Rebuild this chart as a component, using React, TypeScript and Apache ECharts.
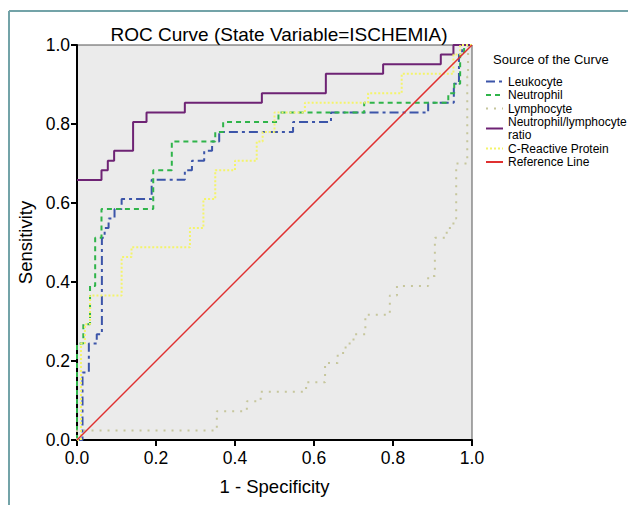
import React, { useEffect, useRef } from "react";
import * as echarts from "echarts";

const titleText = "ROC Curve (State Variable=ISCHEMIA)";
const xAxisName = "1 - Specificity";
const yAxisName = "Sensitivity";
const legendTitle = "Source of the Curve";
const seriesNames = [
  "Leukocyte",
  "Neutrophil",
  "Lymphocyte",
  "Neutrophil/lymphocyte\nratio",
  "C-Reactive Protein",
  "Reference Line",
];

const leukocyte: number[][] = [
  [0, 0], [0.014, 0], [0.014, 0.171], [0.03, 0.171], [0.03, 0.244], [0.05, 0.244],
  [0.05, 0.268], [0.063, 0.268], [0.063, 0.512], [0.07, 0.512], [0.07, 0.537],
  [0.08, 0.537], [0.08, 0.561], [0.095, 0.561], [0.095, 0.585], [0.113, 0.585],
  [0.113, 0.61], [0.189, 0.61], [0.189, 0.659], [0.273, 0.659], [0.273, 0.683],
  [0.291, 0.683], [0.291, 0.707], [0.322, 0.707], [0.322, 0.732], [0.342, 0.732],
  [0.342, 0.756], [0.36, 0.756], [0.36, 0.78], [0.547, 0.78], [0.547, 0.805],
  [0.643, 0.805], [0.643, 0.829], [0.889, 0.829], [0.889, 0.854], [0.954, 0.854],
  [0.954, 0.902], [0.967, 0.902], [0.967, 0.976], [0.975, 0.976], [0.975, 1], [1, 1],
];

const neutrophil: number[][] = [
  [0, 0], [0, 0.244], [0.016, 0.244], [0.016, 0.293], [0.033, 0.293], [0.033, 0.39],
  [0.046, 0.39], [0.046, 0.512], [0.062, 0.512], [0.062, 0.585], [0.193, 0.585],
  [0.193, 0.683], [0.24, 0.683], [0.24, 0.756], [0.35, 0.756], [0.35, 0.78],
  [0.37, 0.78], [0.37, 0.805], [0.51, 0.805], [0.51, 0.829], [0.727, 0.829],
  [0.727, 0.854], [0.94, 0.854], [0.94, 0.878], [0.955, 0.878], [0.955, 0.902],
  [0.97, 0.902], [0.97, 0.976], [0.98, 0.976], [0.98, 1], [1, 1],
];

const lymphocyte: number[][] = [
  [0, 0], [0, 0.024], [0.354, 0.024], [0.354, 0.073], [0.43, 0.073], [0.43, 0.098],
  [0.465, 0.098], [0.465, 0.122], [0.58, 0.122], [0.58, 0.146], [0.628, 0.146],
  [0.628, 0.195], [0.66, 0.195], [0.66, 0.22], [0.68, 0.22], [0.68, 0.244],
  [0.7, 0.244], [0.7, 0.268], [0.73, 0.268], [0.73, 0.317], [0.792, 0.317],
  [0.792, 0.366], [0.81, 0.366], [0.81, 0.39], [0.889, 0.39], [0.889, 0.415],
  [0.906, 0.415], [0.906, 0.512], [0.936, 0.512], [0.936, 0.537], [0.953, 0.537],
  [0.953, 0.561], [0.96, 0.561], [0.96, 0.7], [0.988, 0.7], [0.988, 0.92],
  [0.99, 0.92], [0.99, 1], [1, 1],
];

const nlRatio: number[][] = [
  [0, 0.658], [0.062, 0.658], [0.062, 0.683], [0.078, 0.683], [0.078, 0.707],
  [0.094, 0.707], [0.094, 0.732], [0.142, 0.732], [0.142, 0.805], [0.176, 0.805],
  [0.176, 0.829], [0.273, 0.829], [0.273, 0.854], [0.468, 0.854], [0.468, 0.878],
  [0.63, 0.878], [0.63, 0.927], [0.775, 0.927], [0.775, 0.951], [0.921, 0.951],
  [0.921, 0.976], [0.953, 0.976], [0.953, 1], [1, 1],
];

const crp: number[][] = [
  [0, 0], [0.01, 0], [0.01, 0.244], [0.02, 0.244], [0.02, 0.293], [0.033, 0.293],
  [0.033, 0.366], [0.113, 0.366], [0.113, 0.463], [0.138, 0.463], [0.138, 0.488],
  [0.286, 0.488], [0.286, 0.537], [0.32, 0.537], [0.32, 0.61], [0.35, 0.61],
  [0.35, 0.683], [0.4, 0.683], [0.4, 0.707], [0.455, 0.707], [0.455, 0.756],
  [0.47, 0.756], [0.47, 0.78], [0.5, 0.78], [0.5, 0.829], [0.577, 0.829],
  [0.577, 0.854], [0.737, 0.854], [0.737, 0.878], [0.822, 0.878], [0.822, 0.927],
  [0.953, 0.927], [0.953, 0.976], [0.97, 0.976], [0.97, 1], [1, 1],
];

const referenceLine: number[][] = [
  [0, 0], [1, 1],
];

const FONT = "Liberation Sans, Arial, sans-serif";

export default function App() {
  const ref = useRef<HTMLDivElement>(null);
  useEffect(() => {
    if (!ref.current) return;
    const chart = echarts.init(ref.current, undefined, { renderer: "svg" });
    const mk = (name: string, data: number[][], color: string, width: number, type: any) => ({
      name,
      type: "line",
      data,
      symbol: "none",
      showSymbol: false,
      lineStyle: { color, width, type },
      itemStyle: { color },
      emphasis: { disabled: true },
    });
    chart.setOption({
      animation: false,
      backgroundColor: "#ffffff",
      textStyle: { fontFamily: FONT },
      title: {
        text: titleText,
        left: 274,
        textAlign: "center",
        top: 20,
        textStyle: { fontSize: 19, fontWeight: "normal", color: "#000", fontFamily: FONT },
      },
      grid: {
        left: 77,
        top: 45,
        width: 395,
        height: 395,
        show: true,
        backgroundColor: "#ebebeb",
        borderColor: "#555555",
        borderWidth: 1,
      },
      xAxis: {
        type: "value",
        min: 0,
        max: 1,
        interval: 0.2,
        name: xAxisName,
        nameLocation: "middle",
        nameGap: 37,
        nameTextStyle: { fontSize: 18.5, color: "#000", fontFamily: FONT },
        axisLine: { show: true, lineStyle: { color: "#000", width: 2 } },
        axisTick: { show: true, length: 6, lineStyle: { color: "#000", width: 2 } },
        axisLabel: {
          fontSize: 17.5,
          color: "#000",
          margin: 9,
          fontFamily: FONT,
          formatter: (v: number) => v.toFixed(1),
        },
        splitLine: { show: false },
      },
      yAxis: {
        type: "value",
        min: 0,
        max: 1,
        interval: 0.2,
        name: yAxisName,
        nameLocation: "middle",
        nameGap: 38,
        nameTextStyle: { fontSize: 18.5, color: "#000", fontFamily: FONT },
        axisLine: { show: true, lineStyle: { color: "#000", width: 2 } },
        axisTick: { show: true, length: 6, lineStyle: { color: "#000", width: 2 } },
        axisLabel: {
          fontSize: 17.5,
          color: "#000",
          margin: 7,
          fontFamily: FONT,
          formatter: (v: number) => v.toFixed(1),
        },
        splitLine: { show: false },
      },
      legend: {
        orient: "vertical",
        left: 480,
        top: 70,
        itemWidth: 17,
        itemHeight: 8,
        itemGap: 0.5,
        data: seriesNames,
        itemStyle: { opacity: 0 },
        textStyle: { fontSize: 12, color: "#000", lineHeight: 13, fontFamily: FONT },
        selectedMode: false,
      },
      graphic: [
        {
          type: "line",
          shape: { x1: 9, y1: 11, x2: 628, y2: 11 },
          style: { stroke: "#73a3a8", lineWidth: 2 },
        },
        {
          type: "line",
          shape: { x1: 9, y1: 11, x2: 9, y2: 505 },
          style: { stroke: "#73a3a8", lineWidth: 2 },
        },
        {
          type: "text",
          left: 493,
          top: 53,
          style: { text: legendTitle, fontSize: 13, fill: "#000", fontFamily: FONT },
        },
      ],
      series: [
        mk(seriesNames[0], leukocyte, "#3c55a9", 2, [9, 4, 3, 4]),
        mk(seriesNames[1], neutrophil, "#2fb44a", 2, [5, 4]),
        mk(seriesNames[2], lymphocyte, "#c6c69c", 2, [2, 6]),
        mk(seriesNames[3], nlRatio, "#6e2374", 2, "solid"),
        mk(seriesNames[4], crp, "#f4f46a", 2, [2, 2]),
        mk(seriesNames[5], referenceLine, "#e03030", 1.5, "solid"),
      ],
    });
    return () => chart.dispose();
  }, []);
  return (
    <div style={{ position: "absolute", left: 0, top: 0, width: 628, height: 505, background: "#fff" }}>
      <div ref={ref} style={{ width: 628, height: 505 }} />
    </div>
  );
}
